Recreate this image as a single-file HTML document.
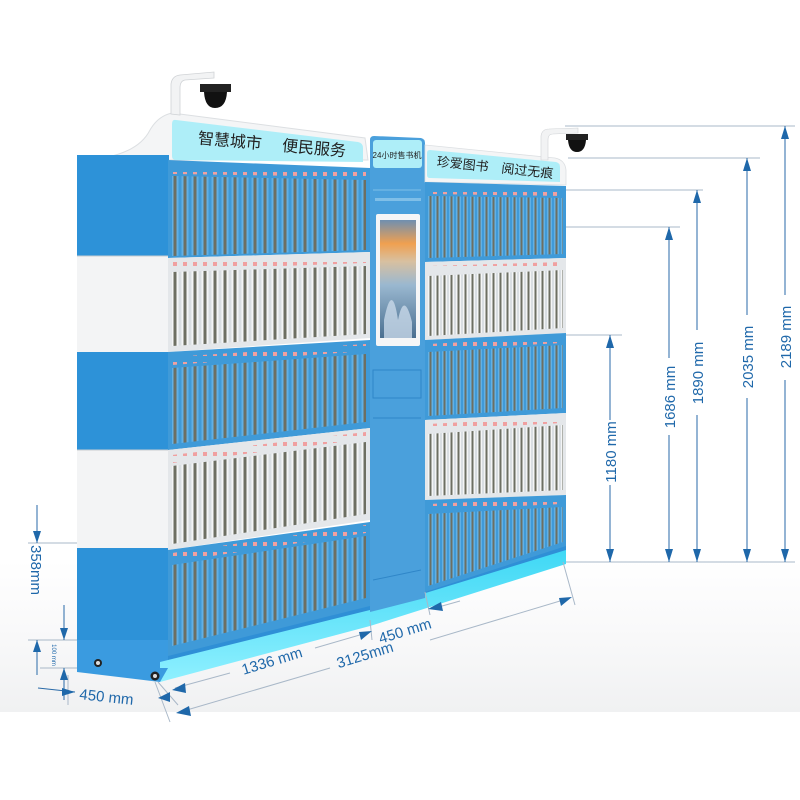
<!DOCTYPE html>
<html><head><meta charset="utf-8"><style>
html,body{margin:0;padding:0;background:#fff;}
svg{display:block;}
text{font-family:"Liberation Sans","Noto Sans CJK SC",sans-serif;}
</style></head><body>
<svg width="800" height="800" viewBox="0 0 800 800" xmlns="http://www.w3.org/2000/svg">
<defs>
<linearGradient id="floor" x1="0" y1="0" x2="0" y2="1">
<stop offset="0" stop-color="#fff"/><stop offset="0.6" stop-color="#f7f7f8"/><stop offset="1" stop-color="#f0f1f2"/>
</linearGradient>
<pattern id="pb" width="10" height="400" patternUnits="userSpaceOnUse">
<rect width="10" height="400" fill="#3f9ad8"/>
<rect x="1.5" width="7" height="400" fill="#62b0e4"/>
<rect x="3.5" width="3" height="400" fill="#6d6f62"/>
</pattern>
<pattern id="pw" width="10" height="400" patternUnits="userSpaceOnUse">
<rect width="10" height="400" fill="#d9dee2"/>
<rect x="1.5" width="7" height="400" fill="#f4f5f6"/>
<rect x="3.5" width="3" height="400" fill="#6d6f62"/>
</pattern>
<pattern id="pr" width="10" height="10" patternUnits="userSpaceOnUse">
<rect x="3" y="2" width="4" height="4" fill="#f0a0a0"/>
</pattern>
<pattern id="pbr" width="7" height="400" patternUnits="userSpaceOnUse">
<rect width="7" height="400" fill="#3f9ad8"/>
<rect x="1" width="5" height="400" fill="#62b0e4"/>
<rect x="2.5" width="2" height="400" fill="#6d6f62"/>
</pattern>
<pattern id="pwr" width="7" height="400" patternUnits="userSpaceOnUse">
<rect width="7" height="400" fill="#d9dee2"/>
<rect x="1" width="5" height="400" fill="#f4f5f6"/>
<rect x="2.5" width="2" height="400" fill="#6d6f62"/>
</pattern>
<linearGradient id="scr" x1="0" y1="0" x2="0" y2="1">
<stop offset="0" stop-color="#6f8fb0"/><stop offset="0.2" stop-color="#f0a050"/><stop offset="0.35" stop-color="#d8c0a0"/><stop offset="0.55" stop-color="#9ab8d0"/><stop offset="1" stop-color="#4a6f90"/>
</linearGradient>
<linearGradient id="glow" x1="0" y1="0" x2="0" y2="1">
<stop offset="0" stop-color="#3fd8f5"/><stop offset="1" stop-color="#8ff0ff"/>
</linearGradient>
</defs>

<rect x="0" y="560" width="800" height="152" fill="url(#floor)"/>

<!-- roof left -->
<path d="M108,157 Q140,150 150,130 Q158,116 172,113 L365,138 L368,160 L108,160 Z" fill="#f4f5f6" stroke="#dcdfe2" stroke-width="1"/>
<path d="M171,114 L171,84 Q172,76 180,75 L214,72 L214,78 L185,80 Q180,81 180,88 L180,115 Z" fill="#f2f3f4" stroke="#d0d3d6" stroke-width="0.8"/>
<path d="M200,84 L231,84 L231,92 L200,92 Z" fill="#222"/>
<path d="M204,92 Q205,108 215,108 Q226,108 227,92 Z" fill="#111"/>
<path d="M176,120 L358,142 Q363,143 363,148 L363,162 L176,160 Q172,160 172,156 L172,124 Q172,119 176,120 Z" fill="#aeeef8"/>
<text x="272" y="150" font-size="16" fill="#222" transform="rotate(5 272 145)" text-anchor="middle">智慧城市　 便民服务</text>

<!-- left side panel -->
<rect x="77" y="155" width="92" height="101" fill="#2d92d8"/>
<rect x="77" y="256" width="92" height="96" fill="#f3f4f5"/>
<rect x="77" y="352" width="92" height="98" fill="#2d92d8"/>
<rect x="77" y="450" width="92" height="98" fill="#f3f4f5"/>
<rect x="77" y="548" width="92" height="92" fill="#2d92d8"/>
<rect x="77" y="640" width="92" height="28" fill="#3a9be0"/>
<line x1="77" y1="256" x2="169" y2="256" stroke="#c8ccd0"/>
<line x1="77" y1="450" x2="169" y2="450" stroke="#c8ccd0"/>

<!-- base -->
<polygon points="168,640 370,590 566,540 566,556 370,612 168,664" fill="#2f8fd6"/>
<polygon points="160,662 370,610 566,550 566,564 370,626 160,682" fill="url(#glow)"/>

<!-- left front rows -->
<polygon points="168,160 370,168 370,252 168,258" fill="#3f9ad8"/>
<polygon points="168,258 370,252 370,338 168,352" fill="#e4e7ea"/>
<polygon points="168,352 370,340 370,428 168,450" fill="#3f9ad8"/>
<polygon points="168,450 370,428 370,520 168,550" fill="#e4e7ea"/>
<polygon points="168,550 370,522 370,606 168,656" fill="#3f9ad8"/>
<polygon points="172,176 366,180 366,250 172,256" fill="url(#pb)"/>
<polygon points="172,272 366,266 366,334 172,346" fill="url(#pw)"/>
<polygon points="172,368 366,354 366,422 172,444" fill="url(#pb)"/>
<polygon points="172,466 366,442 366,514 172,544" fill="url(#pw)"/>
<polygon points="172,565 366,536 366,598 172,646" fill="url(#pb)"/>
<polygon points="172,166 366,170 366,177 172,174" fill="url(#pr)"/>
<polygon points="172,262 366,256 366,263 172,270" fill="url(#pr)"/>
<polygon points="172,357 366,344 366,351 172,365" fill="url(#pr)"/>
<polygon points="172,455 366,432 366,439 172,463" fill="url(#pr)"/>
<polygon points="172,553 366,525 366,533 172,562" fill="url(#pr)"/>

<!-- middle column -->
<path d="M370,140 Q370,136 374,136 L421,138 Q425,139 425,143 L425,598 L370,612 Z" fill="#4aa0dc"/>
<rect x="373" y="140" width="49" height="28" rx="3" fill="#aeeef8"/>
<text x="397" y="158" font-size="8" fill="#222" text-anchor="middle">24小时售书机</text>
<line x1="373" y1="190" x2="421" y2="190" stroke="#7fbfe8" stroke-width="1"/>
<rect x="375" y="198" width="46" height="3" fill="#7fbfe8"/>
<rect x="376" y="214" width="44" height="132" rx="2" fill="#f5f6f7"/>
<rect x="380" y="220" width="36" height="118" fill="url(#scr)"/>
<path d="M384,320 Q392,280 398,320 Q404,290 412,322 L412,338 L384,338 Z" fill="#c8d8e8" opacity="0.8"/>
<rect x="373" y="370" width="48" height="28" fill="none" stroke="#2f86c8" stroke-width="1"/>
<line x1="373" y1="418" x2="421" y2="418" stroke="#2f86c8"/>
<line x1="373" y1="580" x2="421" y2="570" stroke="#2f86c8"/>

<!-- right roof / camera -->
<path d="M425,145 L555,158 Q565,160 566,170 L566,185 L425,182 Z" fill="#f4f5f6" stroke="#dcdfe2" stroke-width="0.8"/>
<path d="M541,160 L541,136 Q542,129 549,129 L578,128 L578,133 L553,134 Q548,134 548,140 L548,160 Z" fill="#f2f3f4" stroke="#d0d3d6" stroke-width="0.6"/>
<path d="M566,134 L588,134 L588,140 L566,140 Z" fill="#222"/>
<path d="M568,140 Q569,152 577,152 Q585,152 586,140 Z" fill="#111"/>
<path d="M430,150 L556,162 Q560,163 560,167 L560,182 L430,178 Q427,178 427,175 L427,153 Q427,150 430,150 Z" fill="#aeeef8"/>
<text x="495" y="172" font-size="13" fill="#222" transform="rotate(6 495 168)" text-anchor="middle">珍爱图书　阅过无痕</text>

<!-- right rows -->
<polygon points="425,182 566,186 566,258 425,262" fill="#3f9ad8"/>
<polygon points="425,262 566,258 566,333 425,340" fill="#e4e7ea"/>
<polygon points="425,340 566,333 566,413 425,420" fill="#3f9ad8"/>
<polygon points="425,420 566,413 566,495 425,500" fill="#e4e7ea"/>
<polygon points="425,500 566,495 566,546 425,592" fill="#3f9ad8"/>
<polygon points="428,196 563,198 563,254 428,258" fill="url(#pbr)"/>
<polygon points="428,276 563,270 563,328 428,336" fill="url(#pwr)"/>
<polygon points="428,352 563,345 563,408 428,416" fill="url(#pbr)"/>
<polygon points="428,434 563,425 563,490 428,496" fill="url(#pwr)"/>
<polygon points="428,514 563,507 563,542 428,586" fill="url(#pbr)"/>
<polygon points="428,188 563,190 563,196 428,194" fill="url(#pr)"/>
<polygon points="428,266 563,262 563,268 428,272" fill="url(#pr)"/>
<polygon points="428,344 563,337 563,343 428,350" fill="url(#pr)"/>
<polygon points="428,424 563,417 563,423 428,430" fill="url(#pr)"/>
<polygon points="428,504 563,498 563,504 428,510" fill="url(#pr)"/>

<!-- left base block -->
<polygon points="77,668 168,668 160,682 77,672" fill="#3a9be0"/>
<circle cx="98" cy="663" r="4" fill="#222"/><circle cx="98" cy="663" r="2" fill="#ddd"/>
<circle cx="155" cy="676" r="4.5" fill="#222"/><circle cx="155" cy="676" r="2" fill="#ddd"/>

<!-- right dimension lines -->
<g stroke="#a9b8c8" stroke-width="1" fill="none">
<line x1="565" y1="126" x2="795" y2="126"/>
<line x1="568" y1="158" x2="760" y2="158"/>
<line x1="566" y1="190" x2="703" y2="190"/>
<line x1="566" y1="227" x2="680" y2="227"/>
<line x1="566" y1="335" x2="622" y2="335"/>
<line x1="566" y1="562" x2="795" y2="562"/>
</g>
<g stroke="#2a6aa8" stroke-width="1">
<line x1="610" y1="335" x2="610" y2="420"/><line x1="610" y1="485" x2="610" y2="562"/>
<line x1="669" y1="227" x2="669" y2="358"/><line x1="669" y1="435" x2="669" y2="562"/>
<line x1="697" y1="190" x2="697" y2="330"/><line x1="697" y1="415" x2="697" y2="562"/>
<line x1="747" y1="158" x2="747" y2="315"/><line x1="747" y1="398" x2="747" y2="562"/>
<line x1="785" y1="126" x2="785" y2="295"/><line x1="785" y1="380" x2="785" y2="562"/>
</g>
<g fill="#1f68aa">
<polygon points="610,335 606,348 614,348"/><polygon points="610,562 606,549 614,549"/>
<polygon points="669,227 665,240 673,240"/><polygon points="669,562 665,549 673,549"/>
<polygon points="697,190 693,203 701,203"/><polygon points="697,562 693,549 701,549"/>
<polygon points="747,158 743,171 751,171"/><polygon points="747,562 743,549 751,549"/>
<polygon points="785,126 781,139 789,139"/><polygon points="785,562 781,549 789,549"/>
</g>
<g font-size="15" fill="#1f68aa" text-anchor="middle">
<text x="616" y="452" transform="rotate(-90 616 452)">1180 mm</text>
<text x="675" y="397" transform="rotate(-90 675 397)">1686 mm</text>
<text x="703" y="373" transform="rotate(-90 703 373)">1890 mm</text>
<text x="753" y="357" transform="rotate(-90 753 357)">2035 mm</text>
<text x="791" y="337" transform="rotate(-90 791 337)">2189 mm</text>
</g>

<!-- left dimension -->
<g stroke="#a9b8c8" stroke-width="1">
<line x1="28" y1="543" x2="77" y2="543"/>
<line x1="28" y1="640" x2="77" y2="640"/>
<line x1="40" y1="668" x2="77" y2="668"/>
<line x1="68" y1="675" x2="68" y2="705"/>
<line x1="155" y1="682" x2="170" y2="722"/>
<line x1="158" y1="682" x2="178" y2="705"/>
</g>
<g stroke="#2a6aa8" stroke-width="1">
<line x1="37" y1="505" x2="37" y2="543"/>
<line x1="64" y1="605" x2="64" y2="640"/>
<line x1="37" y1="640" x2="37" y2="675"/>
<line x1="64" y1="668" x2="64" y2="700"/>
<line x1="38" y1="688" x2="75" y2="692"/>
</g>
<g fill="#1f68aa">
<polygon points="37,543 33,531 41,531"/><polygon points="64,640 60,628 68,628"/>
<polygon points="37,640 33,652 41,652"/><polygon points="64,668 60,680 68,680"/>
<polygon points="75,692 62,688 62,696"/><polygon points="158,698 170,692 170,702"/>
</g>
<text x="31" y="570" font-size="15" fill="#1f68aa" text-anchor="middle" transform="rotate(90 31 570)">358mm</text>
<text x="52" y="655" font-size="6" fill="#1f68aa" text-anchor="middle" transform="rotate(90 52 655)">100 mm</text>
<text x="106" y="702" font-size="15" fill="#1f68aa" text-anchor="middle" transform="rotate(6 106 702)">450 mm</text>

<!-- bottom diagonal dims -->
<g stroke="#a9b8c8" stroke-width="1">
<line x1="175" y1="688" x2="230" y2="673"/>
<line x1="315" y1="648" x2="370" y2="632"/>
<line x1="180" y1="712" x2="330" y2="668"/>
<line x1="430" y1="640" x2="570" y2="598"/>
<line x1="435" y1="608" x2="460" y2="601"/>
<line x1="370" y1="620" x2="372" y2="640"/>
<line x1="425" y1="592" x2="430" y2="615"/>
<line x1="563" y1="562" x2="575" y2="605"/>
</g>
<g fill="#1f68aa">
<polygon points="172,690 185,683 186,693"/>
<polygon points="372,631 359,632 361,640"/>
<polygon points="176,713 189,706 191,716"/>
<polygon points="572,597 559,598 561,606"/>
<polygon points="428,609 441,602 443,611"/>
</g>
<g font-size="15" fill="#1f68aa" text-anchor="middle">
<text x="272" y="666" transform="rotate(-17 272 661)">1336 mm</text>
<text x="365" y="660" transform="rotate(-17 365 655)">3125mm</text>
<text x="405" y="636" transform="rotate(-17 405 631)">450 mm</text>
</g>
</svg>
</body></html>
